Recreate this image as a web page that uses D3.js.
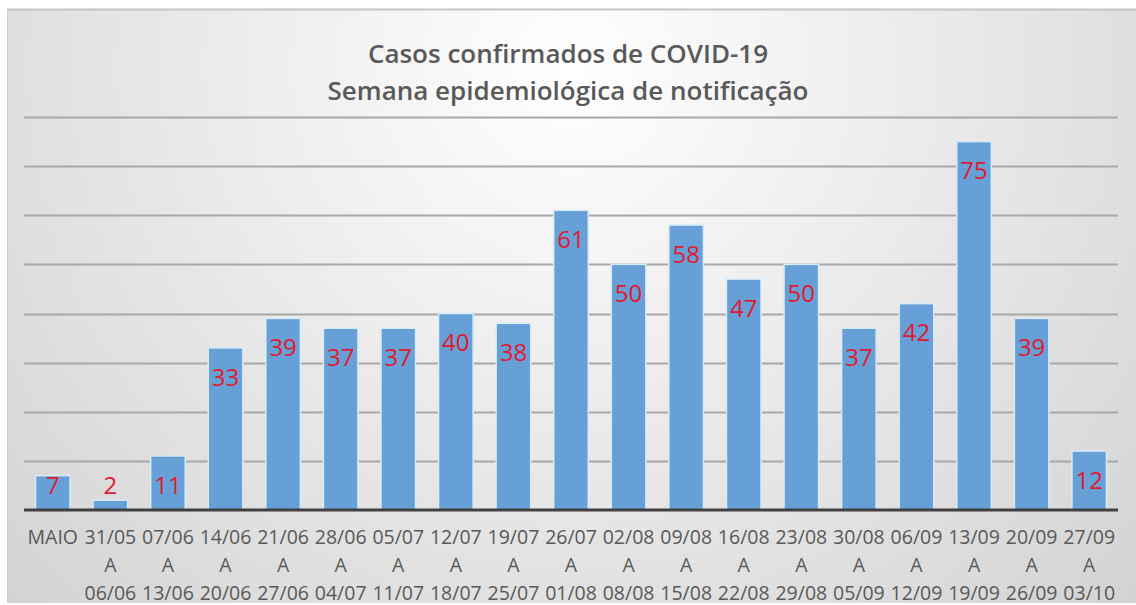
<!DOCTYPE html>
<html>
<head>
<meta charset="utf-8">
<script src="https://cdn.jsdelivr.net/npm/d3@7"></script>
<style>
  body { margin: 0; background: #fff; }
  text { font-family: "Open Sans", sans-serif; }
</style>
</head>
<body>
<div class="canvas"></div>
<script>
const WIDTH = 1136,
  HEIGHT = 605,
  PLOT = { left: 24, right: 1118, top: 117, bottom: 510 };

const startDates = ["MAIO", "31/05", "07/06", "14/06", "21/06", "28/06", "05/07", "12/07", "19/07", "26/07",
  "02/08", "09/08", "16/08", "23/08", "30/08", "06/09", "13/09", "20/09", "27/09"];
const endDates = ["", "06/06", "13/06", "20/06", "27/06", "04/07", "11/07", "18/07", "25/07", "01/08",
  "08/08", "15/08", "22/08", "29/08", "05/09", "12/09", "19/09", "26/09", "03/10"];
const cases = [7, 2, 11, 33, 39, 37, 37, 40, 38, 61, 50, 58, 47, 50, 37, 42, 75, 39, 12];
const gridTicks = [0, 10, 20, 30, 40, 50, 60, 70, 80];
const titleLines = ["Casos confirmados de COVID-19", "Semana epidemiológica de notificação"];

const weeks = startDates.map((start, i) => ({ start, end: endDates[i], value: cases[i] }));

const svg = d3.select(".canvas").append("svg")
  .attr("width", WIDTH)
  .attr("height", HEIGHT);

// background gradient like the excel chart area
const defs = svg.append("defs");
const grad = defs.append("radialGradient")
  .attr("id", "bg")
  .attr("cx", "50%").attr("cy", "10%").attr("r", "75%")
  .attr("gradientTransform", "translate(0.5,0.1) scale(1,1.9) translate(-0.5,-0.1)");
grad.append("stop").attr("offset", "0%").attr("stop-color", "#ffffff");
grad.append("stop").attr("offset", "100%").attr("stop-color", "#cfcfcf");

svg.append("rect")
  .attr("x", 7).attr("y", 9)
  .attr("width", WIDTH - 7).attr("height", 594)
  .attr("fill", "url(#bg)");
svg.append("line")
  .attr("x1", 7).attr("x2", WIDTH).attr("y1", 9.5).attr("y2", 9.5)
  .attr("stroke", "#c4c4c4").attr("stroke-width", 2);
svg.append("line")
  .attr("x1", 7.5).attr("x2", 7.5).attr("y1", 9).attr("y2", 603)
  .attr("stroke", "#d0d0d0").attr("stroke-width", 1);

const x = d3.scaleBand()
  .domain(startDates)
  .range([PLOT.left, PLOT.right])
  .paddingInner(0.4)
  .paddingOuter(0.2);

const y = d3.scaleLinear()
  .domain([0, 80])
  .range([PLOT.bottom, PLOT.top]);

// title
svg.append("g").selectAll("text")
  .data(titleLines)
  .enter().append("text")
  .attr("x", 568)
  .attr("y", (d, i) => 63 + i * 37)
  .attr("text-anchor", "middle")
  .attr("font-size", 26)
  .attr("font-weight", 600)
  .attr("fill", "#595959")
  .text(d => d);

// gridlines
svg.append("g").selectAll("line")
  .data(gridTicks.slice(1))
  .enter().append("line")
  .attr("x1", PLOT.left).attr("x2", PLOT.right)
  .attr("y1", d => Math.round(y(d)) + 0.5).attr("y2", d => Math.round(y(d)) + 0.5)
  .attr("stroke", "#a8a8a8")
  .attr("stroke-width", 2);

// bars
svg.append("g").selectAll("rect")
  .data(weeks)
  .enter().append("rect")
  .attr("x", d => x(d.start))
  .attr("y", d => y(d.value))
  .attr("width", x.bandwidth())
  .attr("height", d => y(0) - y(d.value))
  .attr("fill", "#66a0d6")
  .attr("stroke", "#d8ebf8")
  .attr("stroke-width", 1.5);

// baseline
svg.append("line")
  .attr("x1", PLOT.left).attr("x2", PLOT.right)
  .attr("y1", y(0)).attr("y2", y(0))
  .attr("stroke", "#404040")
  .attr("stroke-width", 3);

// value labels
svg.append("g").selectAll("text")
  .data(weeks)
  .enter().append("text")
  .attr("x", d => x(d.start) + x.bandwidth() / 2)
  .attr("y", d => Math.min(y(d.value) + 29, y(0) - 25))
  .attr("dy", "0.36em")
  .attr("text-anchor", "middle")
  .attr("font-size", 24)
  .attr("fill", "#e0192e")
  .text(d => d.value);

// category labels (3 lines)
const tick = svg.append("g").selectAll("text")
  .data(weeks)
  .enter().append("text")
  .attr("text-anchor", "middle")
  .attr("font-size", 19.5)
  .attr("fill", "#595959");

tick.selectAll("tspan")
  .data(d => d.end ? [d.start, "A", d.end] : [d.start])
  .enter().append("tspan")
  .attr("x", function () { const d = d3.select(this.parentNode).datum(); return x(d.start) + x.bandwidth() / 2; })
  .attr("y", (d, i) => 544 + i * 28)
  .text(d => d);
</script>
</body>
</html>
